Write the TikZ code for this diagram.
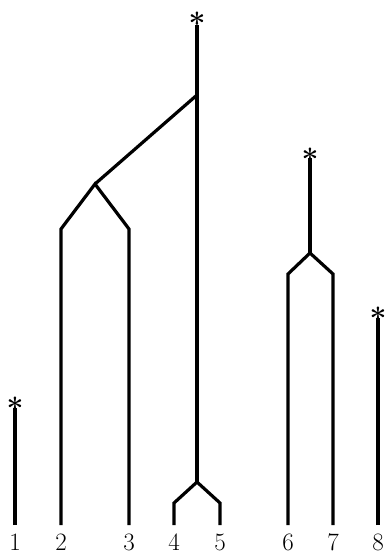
\documentclass[tikz,border=0pt]{standalone}
\begin{document}
\begin{tikzpicture}[x=1pt,y=-1pt,
  branch/.style={line width=3.2pt, line join=miter},
  lbl/.style={anchor=base, inner sep=0pt, font=\fontsize{25}{30}\selectfont},
  star/.style={anchor=base, inner sep=0pt, font=\fontsize{30}{36}\selectfont\bfseries}]
\useasboundingbox (0,0) rectangle (388,555);
% leaf bottoms
\coordinate (b1) at (15,525);
\coordinate (b2) at (61,525);
\coordinate (b3) at (129,525);
\coordinate (b4) at (174,525);
\coordinate (b5) at (220,525);
\coordinate (b6) at (288,525);
\coordinate (b7) at (333,525);
\coordinate (b8) at (378,525);
% kinks
\coordinate (k2) at (61,229);
\coordinate (k3) at (129,229);
\coordinate (k4) at (174,503);
\coordinate (k5) at (220,503);
\coordinate (k6) at (288,274);
\coordinate (k7) at (333,274);
% junctions
\coordinate (A) at (95,184);
\coordinate (B) at (197,95);
\coordinate (C) at (197,482);
\coordinate (D) at (310,253);
% tops
\coordinate (t1) at (15,408);
\coordinate (tC) at (197,25);
\coordinate (tD) at (310,158);
\coordinate (t8) at (378,318);
% stars
\node[star] (s1) at (15,419) {*};
\node[star] (sC) at (197,34) {*};
\node[star] (sD) at (310,170) {*};
\node[star] (s8) at (378,329) {*};
% branches
\draw[branch] (b1) -- (t1);
\draw[branch] (b2) -- (k2) -- (A) -- (k3) -- (b3);
\draw[branch] (A) -- (B);
\draw[branch] (b4) -- (k4) -- (C) -- (k5) -- (b5);
\draw[branch] (C) -- (tC);
\draw[branch] (b6) -- (k6) -- (D) -- (k7) -- (b7);
\draw[branch] (D) -- (tD);
\draw[branch] (b8) -- (t8);
% labels
\node[lbl] (l1) at (15,550) {1};
\node[lbl] (l2) at (61,550) {2};
\node[lbl] (l3) at (129,550) {3};
\node[lbl] (l4) at (174,550) {4};
\node[lbl] (l5) at (220,550) {5};
\node[lbl] (l6) at (288,550) {6};
\node[lbl] (l7) at (333,550) {7};
\node[lbl] (l8) at (378,550) {8};
\end{tikzpicture}
\end{document}
